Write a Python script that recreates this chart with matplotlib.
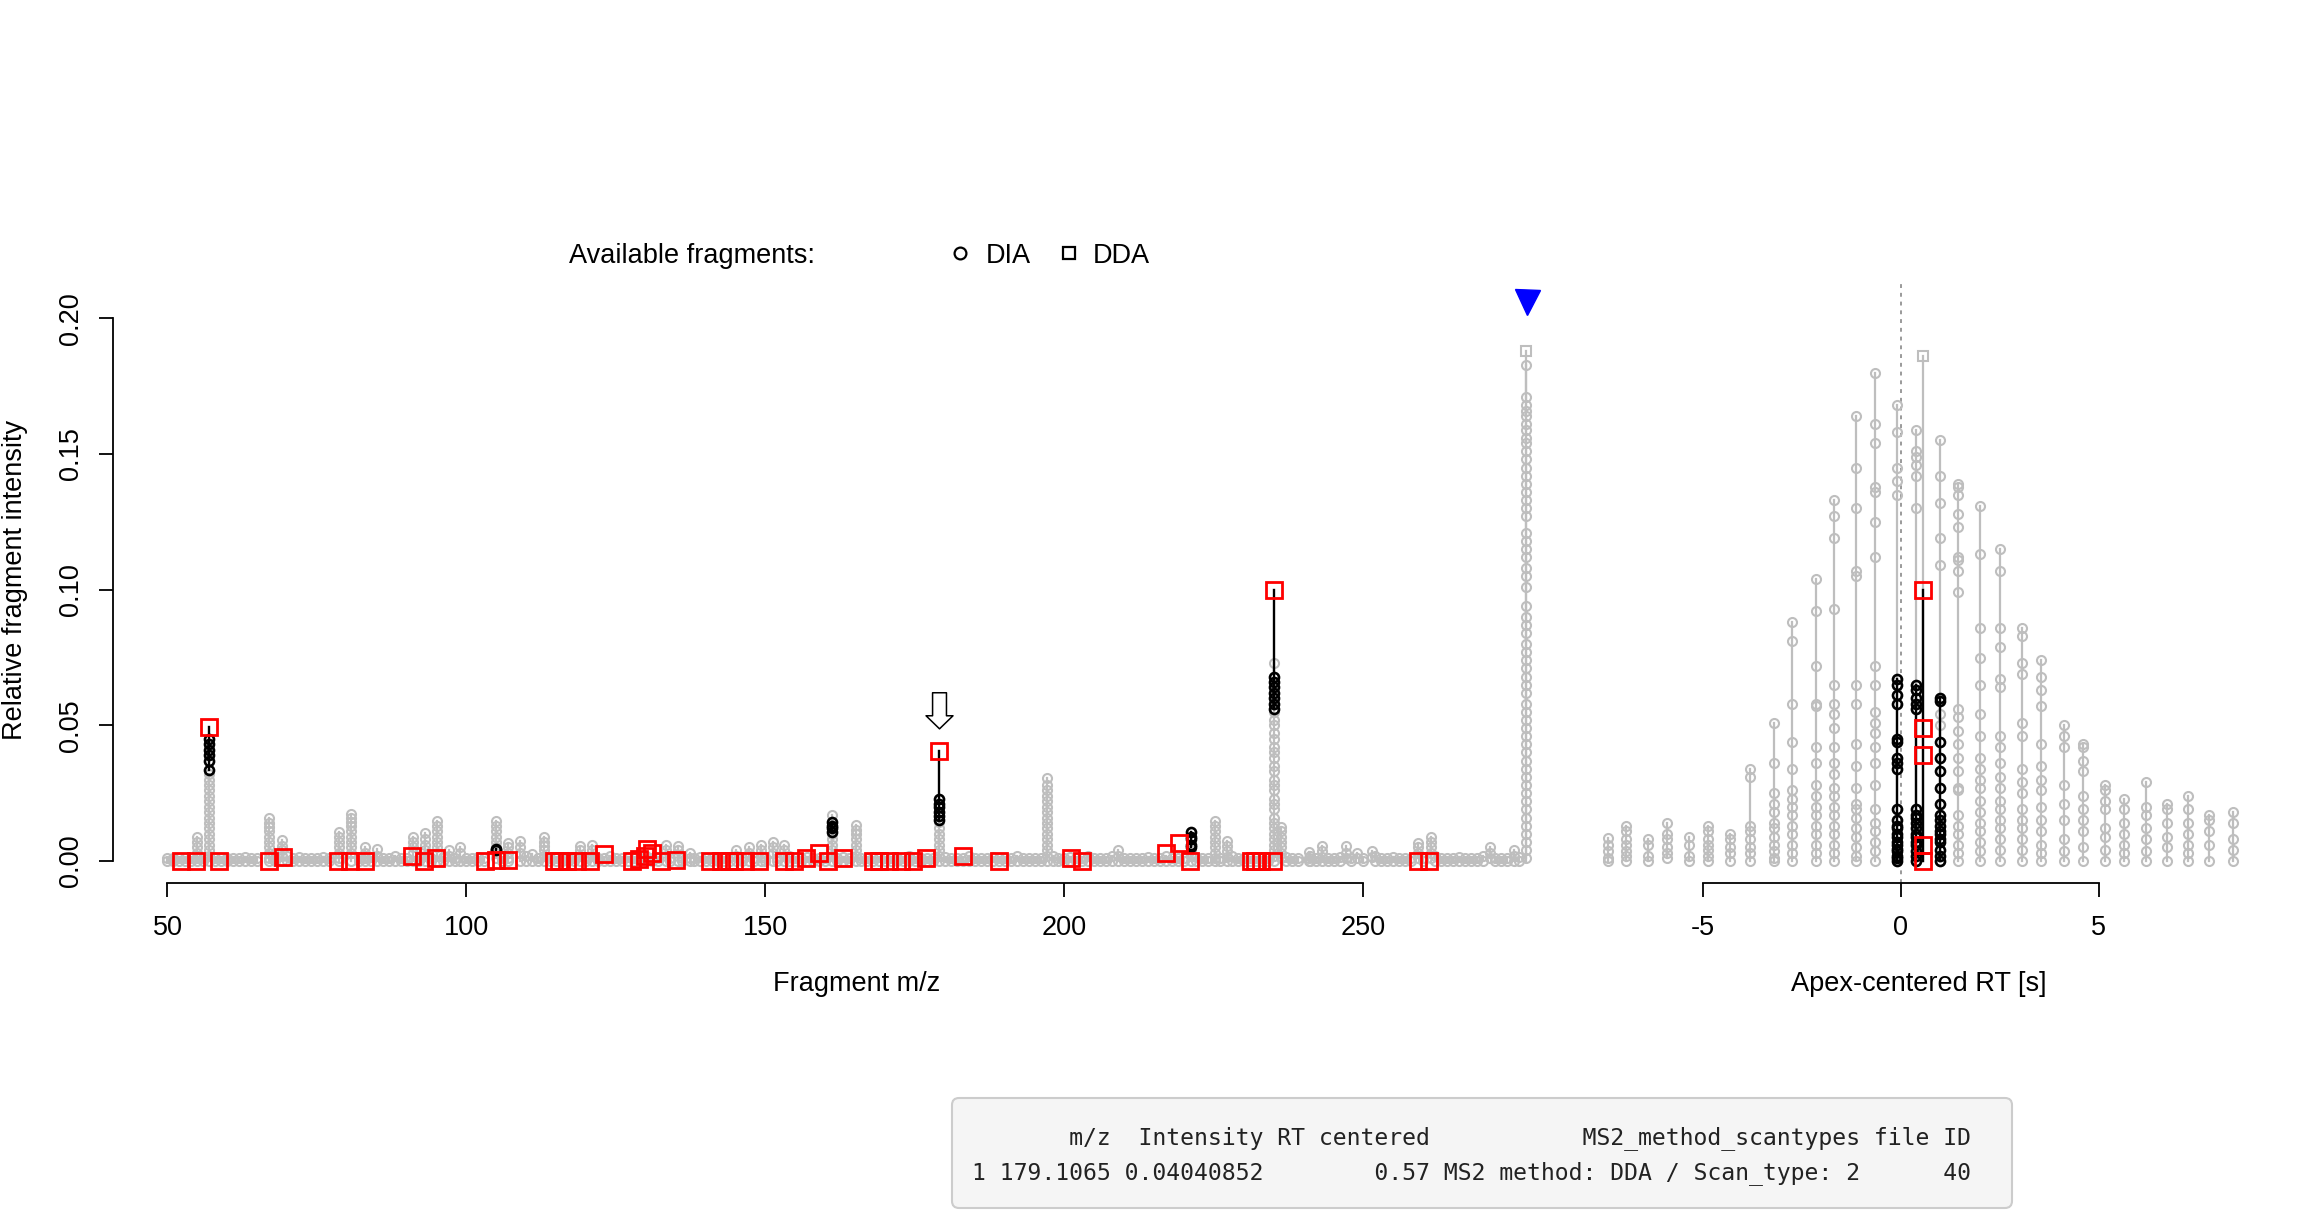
import matplotlib
matplotlib.use('Agg')
import matplotlib.pyplot as plt
from matplotlib.lines import Line2D
from matplotlib.patches import FancyBboxPatch
from matplotlib.transforms import IdentityTransform

plt.rcParams['font.family'] = ['Liberation Sans', 'DejaVu Sans']
plt.rcParams['axes.unicode_minus'] = False

#%% data: left panel (fragment m/z vs relative intensity)

# notable gray fragment stacks (intensities over all scans)
frag_mz = [55.0, 57.0, 66.9, 69.1, 78.7, 80.7, 83.0, 85.0, 91.0, 93.0, 95.1, 97.0, 99.0,
           104.9, 107.0, 108.9, 111.0, 113.0, 119.0, 121.0, 133.3, 135.3, 137.3, 145.1,
           147.2, 149.2, 151.2, 153.1, 161.1, 165.2, 179.1, 197.0, 209.0, 221.2, 225.2,
           227.2, 235.1, 236.2, 240.9, 243.1, 247.0, 249.0, 251.4, 259.2, 261.3, 271.2,
           275.2, 277.2]
frag_gray = [
    [0.0087, 0.007, 0.005, 0.003, 0.001, 0],
    [0.032, 0.030, 0.028, 0.026, 0.024, 0.022, 0.020, 0.018, 0.016, 0.014, 0.012, 0.010,
     0.008, 0.006, 0.004, 0.002, 0],
    [0.0158, 0.014, 0.0125, 0.011, 0.009, 0.007, 0.005, 0.003, 0.001, 0],
    [0.0077, 0.0055, 0.004, 0.002, 0],
    [0.0106, 0.009, 0.007, 0.005, 0.003, 0.001, 0],
    [0.0174, 0.016, 0.0145, 0.013, 0.011, 0.009, 0.007, 0.005, 0.003, 0],
    [0.005, 0.003, 0.001, 0],
    [0.0044, 0.002, 0],
    [0.0087, 0.007, 0.005, 0.003, 0],
    [0.0102, 0.008, 0.006, 0.004, 0.002, 0],
    [0.0147, 0.013, 0.011, 0.009, 0.007, 0.005, 0.003, 0],
    [0.004, 0.002, 0],
    [0.005, 0.003, 0],
    [0.0147, 0.013, 0.011, 0.009, 0.007, 0.005, 0.003, 0.001],
    [0.0065, 0.005, 0.003, 0.001, 0],
    [0.0072, 0.005, 0.003, 0],
    [0.0025, 0],
    [0.0087, 0.007, 0.0055, 0.004, 0.002, 0],
    [0.0056, 0.004, 0.002, 0],
    [0.006, 0.004, 0.002, 0],
    [0.0058, 0.004, 0.002, 0],
    [0.0055, 0.004, 0.002, 0],
    [0.003, 0.001, 0],
    [0.004, 0.002, 0],
    [0.005, 0.003, 0],
    [0.006, 0.004, 0.002, 0],
    [0.007, 0.005, 0.003, 0],
    [0.006, 0.004, 0.002, 0],
    [0.0168, 0.010, 0.008, 0.006, 0.004, 0.002, 0],
    [0.0133, 0.0115, 0.010, 0.008, 0.006, 0.004, 0.002, 0],
    [0.0143, 0.012, 0.010, 0.008, 0.006, 0.004, 0.002, 0],
    [0.0305, 0.028, 0.026, 0.024, 0.022, 0.020, 0.018, 0.016, 0.014, 0.012, 0.010, 0.008,
     0.006, 0.004, 0.002, 0],
    [0.004, 0.002, 0],
    [0.004, 0.002, 0],
    [0.0149, 0.013, 0.011, 0.009, 0.007, 0.005, 0.003, 0.001, 0],
    [0.0075, 0.0055, 0.0035, 0.0015, 0],
    [0.0728, 0.055, 0.052, 0.050, 0.047, 0.045, 0.042, 0.040, 0.038, 0.035, 0.033, 0.030,
     0.028, 0.026, 0.023, 0.021, 0.019, 0.016, 0.014, 0.012, 0.010, 0.008, 0.006, 0.004,
     0.002, 0],
    [0.0127, 0.011, 0.009, 0.007, 0.005, 0.003, 0.001],
    [0.0032, 0.001, 0],
    [0.0056, 0.0035, 0.0015, 0],
    [0.0054, 0.003, 0.001],
    [0.0029, 0.001],
    [0.0035, 0.0015],
    [0.0068, 0.005, 0.003, 0.001],
    [0.0087, 0.007, 0.005, 0.003, 0.001],
    [0.005, 0.003, 0.001],
    [0.004, 0.002, 0],
    [0.183, 0.171, 0.168, 0.166, 0.164, 0.161, 0.159, 0.156, 0.154, 0.151, 0.148, 0.145,
     0.142, 0.139, 0.136, 0.133, 0.130, 0.127, 0.121, 0.118, 0.115, 0.112, 0.108, 0.105,
     0.101, 0.094, 0.090, 0.087, 0.084, 0.080, 0.077, 0.074, 0.071, 0.068, 0.065, 0.062,
     0.058, 0.055, 0.052, 0.049, 0.046, 0.043, 0.040, 0.037, 0.034, 0.031, 0.028, 0.025,
     0.022, 0.019, 0.016, 0.013, 0.010, 0.007, 0.004, 0.001],
]
# gray DDA point of the precursor fragment
frag_dda_mz = [277.2]
frag_dda_int = [0.188]

# low-level fragments forming the baseline band
baseline_mz = [50, 51, 52, 53, 54, 56, 58, 59, 60, 61, 62, 63, 64, 65, 68, 70, 71, 72, 73, 74,
               75, 76, 77, 82, 84, 86, 87, 88, 89, 90, 92, 94, 96, 98, 100, 101, 102, 103, 106,
               110, 112, 114, 115, 116, 117, 118, 120, 122, 123, 124, 125, 126, 127, 128, 129,
               130, 131, 132, 134, 136, 138, 139, 140, 141, 142, 143, 144, 146, 148, 150, 152,
               154, 155, 156, 157, 158, 159, 160, 162, 163, 164, 166, 167, 168, 169, 170, 171,
               172, 173, 174, 175, 176, 177, 178, 180, 181, 182, 183, 184, 185, 186, 187, 188,
               189, 190, 191, 192, 193, 194, 195, 196, 198, 199, 200, 201, 202, 203, 204, 205,
               206, 207, 208, 210, 211, 212, 213, 214, 215, 216, 217, 218, 219, 220, 222, 223,
               224, 226, 228, 229, 230, 231, 232, 233, 234, 237, 238, 239, 241, 242, 244, 245,
               246, 248, 250, 252, 253, 254, 255, 256, 257, 258, 260, 262, 263, 264, 265, 266,
               267, 268, 269, 270, 272, 273, 274, 276]
baseline_top = [0.001, 0.001, 0.001, 0.001, 0.001, 0.001, 0.001, 0.001, 0.001, 0.001, 0.001,
                0.0015, 0.001, 0.001, 0.001, 0.002, 0.001, 0.0015, 0.001, 0.001, 0.001, 0.0015,
                0.001, 0.001, 0.0015, 0.001, 0.001, 0.002, 0.001, 0.001, 0.001, 0.001, 0.0015,
                0.001, 0.001, 0.001, 0.0015, 0.001, 0.001, 0.002, 0.001, 0.001, 0.001, 0.001,
                0.0015, 0.001, 0.001, 0.001, 0.001, 0.002, 0.001, 0.001, 0.0015, 0.001, 0.001,
                0.002, 0.001, 0.001, 0.001, 0.001, 0.001, 0.0015, 0.001, 0.001, 0.001, 0.001,
                0.0015, 0.001, 0.001, 0.001, 0.001, 0.002, 0.001, 0.001, 0.0015, 0.001, 0.001,
                0.001, 0.001, 0.0015, 0.001, 0.001, 0.001, 0.001, 0.0015, 0.001, 0.001, 0.001,
                0.001, 0.002, 0.001, 0.001, 0.001, 0.001, 0.0015, 0.001, 0.001, 0.001, 0.002,
                0.001, 0.001, 0.001, 0.0015, 0.001, 0.001, 0.001, 0.002, 0.001, 0.001, 0.001,
                0.001, 0.002, 0.001, 0.001, 0.0015, 0.001, 0.001, 0.002, 0.001, 0.001, 0.001,
                0.002, 0.001, 0.001, 0.001, 0.001, 0.0015, 0.001, 0.001, 0.002, 0.001, 0.001,
                0.001, 0.0015, 0.001, 0.001, 0.001, 0.002, 0.001, 0.001, 0.001, 0.001, 0.001,
                0.001, 0.0015, 0.001, 0.001, 0.002, 0.001, 0.001, 0.001, 0.0015, 0.001, 0.001,
                0.002, 0.001, 0.001, 0.0015, 0.001, 0.001, 0.001, 0.001, 0.002, 0.001, 0.001,
                0.001, 0.0015, 0.001, 0.001, 0.001, 0.002, 0.001, 0.001, 0.001, 0.0015, 0.001,
                0.001, 0.001]

# fragments of the highlighted (nearby DIA) scans, drawn in black
hl_mz = [57.0, 104.9, 161.1, 179.1, 221.2, 235.1]
hl_black = [
    [0.045, 0.043, 0.041, 0.039, 0.037, 0.0334],
    [0.0045, 0.004],
    [0.0145, 0.013, 0.012, 0.0106],
    [0.023, 0.021, 0.020, 0.018, 0.0165, 0.015],
    [0.0106, 0.009, 0.008, 0.006, 0.005],
    [0.068, 0.066, 0.064, 0.062, 0.060, 0.058, 0.056],
]

# fragments of the selected DDA scan (red squares)
red_mz = [52.3, 54.8, 57.0, 58.6, 66.9, 69.3, 78.5, 80.5, 83.0, 90.9, 92.9, 94.9, 103.1,
          104.9, 107.0, 114.6, 115.4, 116.8, 118.5, 120.7, 123.0, 127.7, 128.8, 129.9, 130.2,
          131.0, 132.5, 135.0, 140.8, 142.5, 143.9, 144.7, 146.6, 148.9, 153.1, 154.8, 156.7,
          159.0, 160.4, 162.9, 167.9, 169.0, 170.7, 172.6, 174.6, 176.9, 179.1, 183.0, 189.1,
          201.1, 203.0, 217.0, 219.1, 221.0, 231.2, 231.9, 232.9, 234.8, 235.1, 259.1, 261.0]
red_int = [0, 0, 0.0495, 0, 0, 0.0015, 0, 0, 0, 0.002, 0, 0.001, 0,
           0.0005, 0.0003, 0, 0, 0, 0, 0, 0.0025, 0, 0.0007, 0.002, 0.0045,
           0.003, 0, 0.0003, 0, 0, 0, 0, 0, 0, 0, 0, 0.001,
           0.003, 0, 0.001, 0, 0, 0, 0, 0, 0.001, 0.0404, 0.002, 0,
           0.001, 0, 0.003, 0.0065, 0, 0, 0, 0, 0, 0.100, 0, 0]

precursor_mz = 277.3
precursor_mark = 0.206

#%% data: right panel (apex-centered RT vs relative intensity)

scan_rt = [-7.40, -6.95, -6.39, -5.91, -5.35, -4.86, -4.32, -3.80, -3.21, -2.75, -2.15, -1.70,
           -1.14, -0.65, -0.10, 0.39, 1.00, 1.45, 2.00, 2.50, 3.06, 3.55, 4.11, 4.60, 5.15,
           5.64, 6.19, 6.72, 7.25, 7.78, 8.39]
scan_gray = [
    [0.0085, 0.006, 0.0035, 0.001, 0],
    [0.013, 0.011, 0.008, 0.006, 0.0035, 0.002, 0],
    [0.008, 0.006, 0.002, 0],
    [0.014, 0.010, 0.008, 0.005, 0.003, 0.001],
    [0.009, 0.006, 0.002, 0],
    [0.013, 0.011, 0.008, 0.006, 0.004, 0.002, 0],
    [0.010, 0.008, 0.005, 0.003, 0],
    [0.034, 0.031, 0.013, 0.011, 0.008, 0.005, 0.003, 0],
    [0.051, 0.036, 0.025, 0.021, 0.018, 0.014, 0.012, 0.009, 0.006, 0.0035, 0.001, 0],
    [0.088, 0.081, 0.058, 0.044, 0.034, 0.026, 0.023, 0.020, 0.017, 0.013, 0.010, 0.006,
     0.003, 0],
    [0.104, 0.092, 0.072, 0.058, 0.057, 0.042, 0.036, 0.028, 0.024, 0.020, 0.017, 0.013,
     0.010, 0.006, 0.003, 0],
    [0.133, 0.127, 0.119, 0.093, 0.065, 0.058, 0.054, 0.049, 0.042, 0.036, 0.032, 0.027,
     0.024, 0.020, 0.017, 0.013, 0.010, 0.006, 0.003, 0],
    [0.164, 0.145, 0.130, 0.107, 0.105, 0.065, 0.058, 0.043, 0.035, 0.027, 0.021, 0.019,
     0.016, 0.012, 0.009, 0.005, 0.002, 0],
    [0.180, 0.161, 0.154, 0.138, 0.136, 0.125, 0.112, 0.072, 0.065, 0.055, 0.051, 0.047,
     0.042, 0.036, 0.028, 0.019, 0.014, 0.011, 0.007, 0.0035, 0],
    [0.168, 0.158, 0.145, 0.140, 0.135, 0],
    [0.159, 0.151, 0.149, 0.146, 0.142, 0.130, 0],
    [0.155, 0.142, 0.132, 0.119, 0.109, 0.054, 0.050, 0],
    [0.139, 0.138, 0.135, 0.128, 0.123, 0.112, 0.111, 0.107, 0.099, 0.056, 0.053, 0.048,
     0.043, 0.038, 0.033, 0.027, 0.026, 0.017, 0.013, 0.010, 0.006, 0.003, 0],
    [0.131, 0.113, 0.086, 0.075, 0.065, 0.054, 0.046, 0.038, 0.034, 0.030, 0.027, 0.022,
     0.018, 0.014, 0.011, 0.007, 0.0035, 0],
    [0.115, 0.107, 0.086, 0.079, 0.067, 0.064, 0.046, 0.042, 0.036, 0.031, 0.027, 0.022,
     0.019, 0.015, 0.012, 0.008, 0.004, 0],
    [0.086, 0.083, 0.073, 0.069, 0.051, 0.046, 0.034, 0.029, 0.025, 0.019, 0.015, 0.012,
     0.008, 0.004, 0],
    [0.074, 0.068, 0.063, 0.057, 0.043, 0.035, 0.030, 0.026, 0.020, 0.015, 0.011, 0.006,
     0.003, 0],
    [0.050, 0.046, 0.042, 0.028, 0.021, 0.015, 0.008, 0.0035, 0],
    [0.043, 0.042, 0.037, 0.033, 0.024, 0.019, 0.015, 0.011, 0.005, 0],
    [0.028, 0.026, 0.022, 0.019, 0.012, 0.009, 0.004, 0],
    [0.023, 0.019, 0.014, 0.010, 0.006, 0.003, 0],
    [0.029, 0.020, 0.017, 0.012, 0.008, 0.0035, 0],
    [0.021, 0.019, 0.014, 0.009, 0.005, 0],
    [0.024, 0.019, 0.014, 0.010, 0.006, 0.003, 0],
    [0.017, 0.015, 0.011, 0.006, 0],
    [0.018, 0.014, 0.008, 0.004, 0],
]

black_rt = [-0.10, 0.39, 1.00]
black_int = [
    [0.067, 0.065, 0.061, 0.058, 0.045, 0.044, 0.038, 0.036, 0.034, 0.019, 0.015, 0.013,
     0.012, 0.010, 0.009, 0.007, 0.006, 0.0045, 0.0035, 0.002, 0.001, 0],
    [0.065, 0.063, 0.060, 0.058, 0.056, 0.019, 0.017, 0.016, 0.014, 0.012, 0.010, 0.009,
     0.007, 0.006, 0.0035, 0.002, 0],
    [0.060, 0.059, 0.044, 0.038, 0.033, 0.027, 0.021, 0.017, 0.015, 0.013, 0.011, 0.010,
     0.008, 0.007, 0.004, 0.002, 0],
]

dda_rt = 0.57
dda_gray = [0.186]
dda_red = [0.100, 0.049, 0.039, 0.006, 0.0]

# selected point shown in the table
sel_mz = 179.1065
sel_int = 0.04040852
sel_rt = 0.57
sel_method = 'MS2 method: DDA / Scan_type: 2'
sel_file = 40

#%% plotting

GRAY = '#BEBEBE'
MS_PT, MEW_PT = 6.5, 1.5      # small point markers
MS_RED, MEW_RED = 12, 2.0     # selected-scan squares
W, H = 2317, 1213
fig = plt.figure(figsize=(W / 100, H / 100), dpi=100)
ax1 = fig.add_axes([0.0488, 0.2721, 0.6336, 0.4938])
ax2 = fig.add_axes([0.6832, 0.2721, 0.2913, 0.4938])
ylim = (-0.0081, 0.2127)


def stack(ax, x, vals, color, marker='o', ms=MS_PT, mew=MEW_PT, lw=1.6, base=None, z=2):
    lo = min(vals) if base is None else base
    ax.plot([x, x], [lo, max(vals)], '-', color=color, lw=lw, zorder=z)
    ax.plot([x] * len(vals), vals, linestyle='none', marker=marker, ms=ms, mfc='none',
            mec=color, mew=mew, zorder=z + 0.1)


# left panel
for mz, top in zip(baseline_mz, baseline_top):
    stack(ax1, mz, [0, top], GRAY)
for mz, vals in zip(frag_mz, frag_gray):
    stack(ax1, mz, vals, GRAY)
for mz, v in zip(frag_dda_mz, frag_dda_int):
    stack(ax1, mz, [v], GRAY, marker='s', base=0)
for mz, vals in zip(hl_mz, hl_black):
    reds = [r for m, r in zip(red_mz, red_int) if abs(m - mz) < 0.05]
    ax1.plot([mz, mz], [min(vals), max(vals + reds)], '-', color='black', lw=1.7, zorder=4)
    ax1.plot([mz] * len(vals), vals, linestyle='none', marker='o', ms=MS_PT, mfc='none',
             mec='black', mew=1.9, zorder=4.1)
ax1.plot(red_mz, red_int, linestyle='none', marker='s', ms=MS_RED, mfc='none', mec='#FF0000',
         mew=MEW_RED, zorder=5)
ax1.plot([precursor_mz], [precursor_mark], linestyle='none', marker='v', ms=18,
         color='#0000FF', zorder=6, clip_on=False)
ax1.annotate('', xy=(sel_mz, sel_int + 0.0083), xytext=(sel_mz, sel_int + 0.0216),
             arrowprops=dict(arrowstyle='simple,head_length=0.47,head_width=0.97,tail_width=0.5',
                             fc='white', ec='black', lw=1.1, shrinkA=0, shrinkB=0,
                             mutation_scale=20), zorder=6)

ax1.set_xlim(40.9, 286.4)
ax1.set_ylim(*ylim)
ax1.set_xticks([50, 100, 150, 200, 250])
ax1.set_yticks([0, 0.05, 0.10, 0.15, 0.20])
ax1.set_yticklabels(['0.00', '0.05', '0.10', '0.15', '0.20'])
for lab in ax1.get_yticklabels():
    lab.set_rotation(90)
    lab.set_va('center')
ax1.spines['top'].set_visible(False)
ax1.spines['right'].set_visible(False)
ax1.spines['left'].set_bounds(0, 0.2)
ax1.spines['bottom'].set_bounds(50, 250)
for sp in ('left', 'bottom'):
    ax1.spines[sp].set_linewidth(1.3)
ax1.tick_params(axis='x', length=10, width=1.3, labelsize=19.5, pad=13)
ax1.tick_params(axis='y', length=10, width=1.3, labelsize=19.5, pad=11)
ax1.patch.set_alpha(0)

# right panel
ax2.axvline(0, color='#9A9A9A', lw=1.4, linestyle=(0, (2, 2.5)), zorder=1)
for rt, vals in zip(scan_rt, scan_gray):
    stack(ax2, rt, vals, GRAY)
stack(ax2, dda_rt, dda_gray, GRAY, marker='s', base=0)
for rt, vals in zip(black_rt, black_int):
    stack(ax2, rt, vals, 'black', mew=1.9, lw=1.7, z=4)
ax2.plot([dda_rt, dda_rt], [min(dda_red), max(dda_red)], '-', color='black', lw=1.7, zorder=4)
ax2.plot([dda_rt] * len(dda_red), dda_red, linestyle='none', marker='s', ms=MS_RED, mfc='none',
         mec='#FF0000', mew=MEW_RED, zorder=5)

ax2.set_xlim(-8.03, 9.02)
ax2.set_ylim(*ylim)
ax2.set_xticks([-5, 0, 5])
ax2.set_yticks([])
for sp in ('top', 'right', 'left'):
    ax2.spines[sp].set_visible(False)
ax2.spines['bottom'].set_bounds(-5, 5)
ax2.spines['bottom'].set_linewidth(1.3)
ax2.tick_params(axis='x', length=10, width=1.3, labelsize=19.5, pad=13)
ax2.patch.set_alpha(0)

# axis titles


def fx(x, y):
    return x / W, 1 - y / H


fig.text(*fx(15, 580), 'Relative fragment intensity', rotation=90, ha='center', va='center',
         fontsize=19.5)
fig.text(*fx(857, 984), 'Fragment m/z', ha='center', va='center', fontsize=19.5)
fig.text(*fx(1919, 984), 'Apex-centered RT [s]', ha='center', va='center', fontsize=19.5)

# legend line at the top
fig.text(*fx(569, 256), 'Available fragments:', ha='left', va='center', fontsize=19.5)
fig.add_artist(Line2D([fx(960, 253)[0]], [fx(960, 253)[1]], transform=fig.transFigure,
                      marker='o', ms=8.5, mfc='none', mec='black', mew=1.6, linestyle='none'))
fig.text(*fx(986, 256), 'DIA', ha='left', va='center', fontsize=19.5)
fig.add_artist(Line2D([fx(1069, 253)[0]], [fx(1069, 253)[1]], transform=fig.transFigure,
                      marker='s', ms=8.5, mfc='none', mec='black', mew=1.6, linestyle='none'))
fig.text(*fx(1093, 256), 'DDA', ha='left', va='center', fontsize=19.5)

# table of the selected point
box = FancyBboxPatch((952, H - 1208), 1060, 110, boxstyle='round,pad=0,rounding_size=7',
                     fc='#F5F5F5', ec='#CCCCCC', lw=1.5, transform=IdentityTransform())
fig.add_artist(box)
line1 = f"{'':1} {'m/z':>8} {'Intensity':>10} {'RT centered':>11} {'MS2_method_scantypes':>30} {'file ID':>7}"
line2 = f"{'1':1} {sel_mz:>8} {sel_int:>10} {sel_rt:>11} {sel_method:>30} {sel_file:>7}"
fig.text(*fx(972, 1138), line1, ha='left', va='center', fontsize=16.7,
         family='DejaVu Sans Mono', color='#222222')
fig.text(*fx(972, 1173), line2, ha='left', va='center', fontsize=16.7,
         family='DejaVu Sans Mono', color='#222222')

fig.savefig('out.png', dpi=100)
